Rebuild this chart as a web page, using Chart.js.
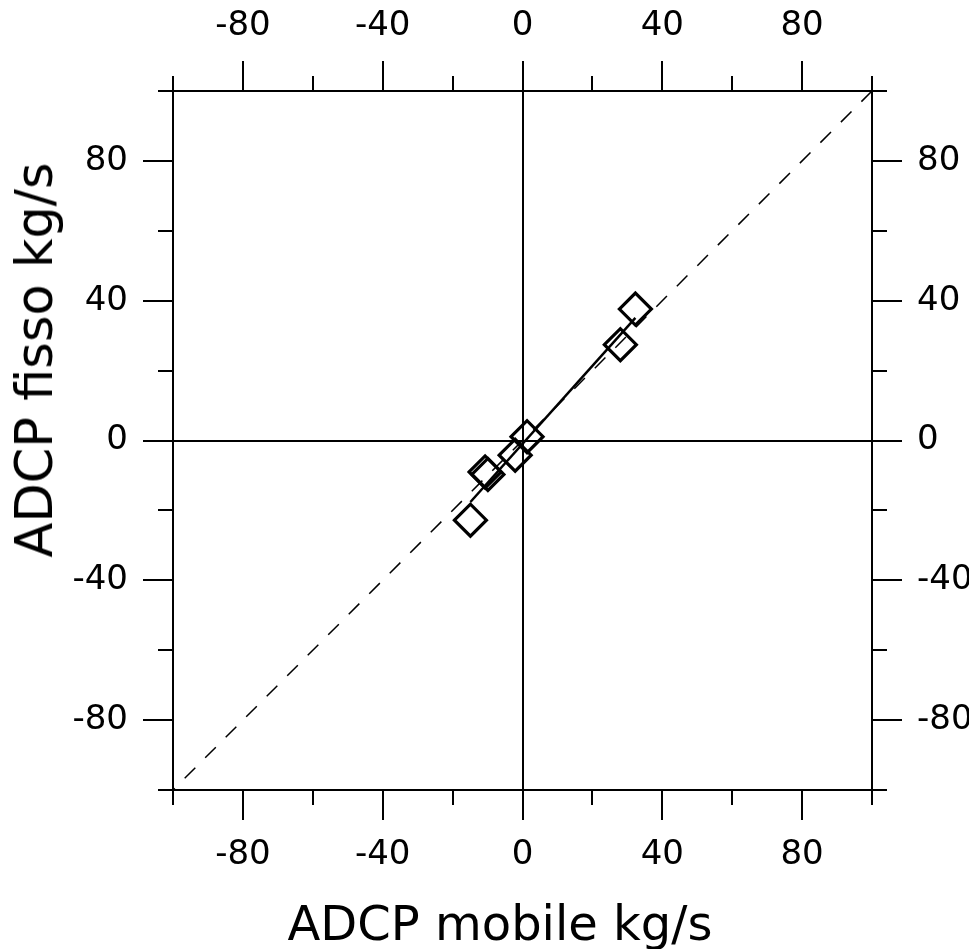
<!DOCTYPE html>
<html>
<head>
<meta charset="utf-8">
<title>ADCP mobile / ADCP fisso</title>
<script src="https://cdn.jsdelivr.net/npm/chart.js@4.4.1/dist/chart.umd.min.js"></script>
<style>
  html, body { margin: 0; padding: 0; background: #fff; }
  #wrap { position: relative; width: 969px; height: 949px; }
  .axis-title { position: absolute; font-family: 'DejaVu Sans', sans-serif; color: #000; white-space: nowrap; }
  #xTitle { left: 500px; top: 899px; font-size: 48px; line-height: 48px; transform: translateX(-50%); }
  #yTitle { left: 52px; top: 360px; font-size: 51px; line-height: 51px; transform-origin: 0 0; transform: rotate(-90deg) translate(-50%, -43px); }
</style>
</head>
<body>
<div id="wrap">
  <canvas id="chart"></canvas>
  <div class="axis-title" id="xTitle">ADCP mobile kg/s</div>
  <div class="axis-title" id="yTitle">ADCP fisso kg/s</div>
</div>
<script>
// flux pairs, kg/s
const mobile = [32.3, 28.0, 1.3, -2.1, -9.9, -10.7, -14.9];
const fisso = [37.6, 27.4, 1.1, -4.2, -9.7, -9.0, -22.8];

// fitted line, drawn over the data range
const fitX = [-14.9, 32.3];
const fitY = [-17.6, 35.1];

// 1:1 reference, drawn from the top right corner down
const identity = [100, -100];

const axisMin = -100;
const axisMax = 100;
const tickStep = 20;
const labelStep = 40;

const isLabelled = (value) => value % labelStep === 0;
const clear = 'rgba(0,0,0,0)';

const zeroColor = (ctx) => (ctx.tick && ctx.tick.value === 0 ? '#000' : clear);
const majorColor = (ctx) => (ctx.tick && isLabelled(ctx.tick.value) ? '#000' : clear);

const makeAxis = (axis, position, size, inside, padding) => ({
  type: 'linear',
  axis,
  position,
  min: axisMin,
  max: axisMax,
  afterFit: (scale) => {
    if (axis === 'x') scale.height = size;
    else scale.width = size;
  },
  border: { display: true, color: '#000', width: 2 },
  grid: {
    display: true,
    drawOnChartArea: inside,
    drawTicks: true,
    tickLength: 30,
    color: zeroColor,
    lineWidth: 2,
    tickColor: majorColor,
    tickWidth: 2,
  },
  ticks: {
    stepSize: tickStep,
    autoSkip: false,
    maxRotation: 0,
    color: '#000',
    padding,
    font: { size: 34 },
    callback: (val) => (isLabelled(val) ? String(val) : ''),
  },
});

// Chart.js has no short minor ticks, so draw them on the scales here
const minorTicks = {
  id: 'minorTicks',
  afterDraw(chart) {
    const { ctx } = chart;
    const len = 15;
    ctx.save();
    ctx.strokeStyle = '#000';
    ctx.lineWidth = 2;
    Object.values(chart.scales).forEach((scale) => {
      scale.ticks.forEach((tick) => {
        if (isLabelled(tick.value)) return;
        const p = Math.round(scale.getPixelForValue(tick.value));
        ctx.beginPath();
        if (scale.position === 'bottom') {
          ctx.moveTo(p, scale.top);
          ctx.lineTo(p, scale.top + len);
        } else if (scale.position === 'top') {
          ctx.moveTo(p, scale.bottom);
          ctx.lineTo(p, scale.bottom - len);
        } else if (scale.position === 'left') {
          ctx.moveTo(scale.right, p);
          ctx.lineTo(scale.right - len, p);
        } else {
          ctx.moveTo(scale.left, p);
          ctx.lineTo(scale.left + len, p);
        }
        ctx.stroke();
      });
    });
    ctx.restore();
  },
};

Chart.defaults.font.family = "'DejaVu Sans', sans-serif";

new Chart(document.getElementById('chart'), {
  type: 'scatter',
  data: {
    datasets: [
      {
        label: 'misure',
        data: mobile.map((x, i) => ({ x, y: fisso[i] })),
        pointStyle: 'rectRot',
        pointRadius: 16,
        pointBorderWidth: 3.2,
        pointBorderColor: '#000',
        pointBackgroundColor: clear,
        borderColor: '#000',
        backgroundColor: clear,
      },
      {
        label: 'regressione',
        data: fitX.map((x, i) => ({ x, y: fitY[i] })),
        showLine: true,
        borderColor: '#000',
        borderWidth: 2.5,
        pointRadius: 0,
      },
      {
        label: '1:1',
        data: identity.map((v) => ({ x: v, y: v })),
        showLine: true,
        borderColor: '#000',
        borderWidth: 1.5,
        borderDash: [15, 14],
        pointRadius: 0,
      },
    ],
  },
  options: {
    responsive: true,
    maintainAspectRatio: false,
    animation: false,
    layout: { padding: 0 },
    scales: {
      x: makeAxis('x', 'bottom', 159, true, 15),
      x2: makeAxis('x', 'top', 91, false, 14),
      y: makeAxis('y', 'left', 173, true, 15),
      y2: makeAxis('y', 'right', 97, false, 15),
    },
    plugins: {
      legend: { display: false },
      tooltip: { enabled: false },
    },
  },
  plugins: [minorTicks],
});
</script>
</body>
</html>
